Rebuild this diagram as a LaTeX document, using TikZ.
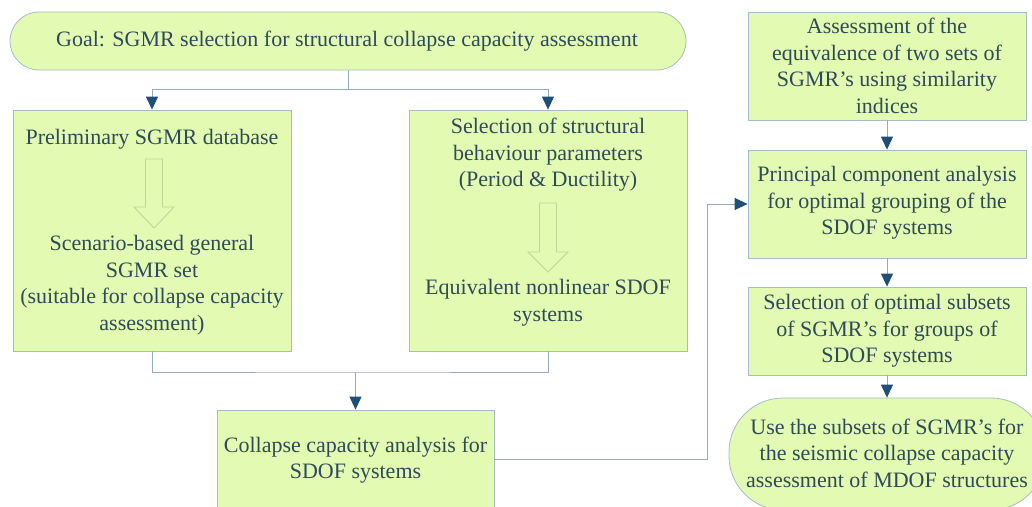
\documentclass[tikz,border=0pt]{standalone}
\usepackage{fontspec}
\setmainfont{Liberation Serif}
\usetikzlibrary{arrows.meta,positioning}
\definecolor{boxfill}{HTML}{E2FAB2}
\definecolor{boxdraw}{HTML}{A3BEC4}
\definecolor{linecol}{HTML}{94ACC0}
\definecolor{tipcol}{HTML}{1F4E79}
\definecolor{txtcol}{HTML}{2F4B5A}
\definecolor{hollowdraw}{HTML}{C2D49C}
\tikzset{
  box/.style={draw=boxdraw, fill=boxfill, line width=0.8pt, rectangle, inner sep=0pt},
  txt/.style={text=txtcol, align=center, font=\fontsize{22}{26.5}\selectfont, inner sep=0pt},
  conn/.style={draw=linecol, line width=1pt},
  arr/.style={conn, -{Triangle[width=12pt,length=13pt,color=tipcol]}},
  hollow/.style={draw=hollowdraw, fill=boxfill, line width=0.9pt},
}
\begin{document}
\begin{tikzpicture}[x=1pt,y=-1pt]
\useasboundingbox (0,0) rectangle (1032,506);
\begin{scope}
\clip (0,0) rectangle (1032,506);
% goal
\node[box, rounded corners=29pt, minimum width=676pt, minimum height=58pt] (goal) at (348,41) {};
\node[txt] (goalt) at (347,41) {Goal: SGMR selection for structural collapse capacity assessment};
% box1
\node[box, minimum width=278pt, minimum height=241pt] (box1) at (152,230.5) {};
\node[txt] (b1a) at (152,139) {Preliminary SGMR database};
\node[txt] (b1b) at (152,285) {Scenario-based general\\SGMR set\\(suitable for collapse capacity\\assessment)};
\draw[hollow] (145.5,159) -- (162.5,159) -- (162.5,207) -- (174,207) -- (154,228) -- (134,207) -- (145.5,207) -- cycle;
% box2
\node[box, minimum width=278pt, minimum height=241pt] (box2) at (548,230.5) {};
\node[txt] (b2a) at (548,155) {Selection of structural\\behaviour parameters\\(Period \& Ductility)};
\node[txt] (b2b) at (548,302.5) {Equivalent nonlinear SDOF\\systems};
\draw[hollow] (539.5,203) -- (556.5,203) -- (556.5,252) -- (568,252) -- (548,272) -- (528,252) -- (539.5,252) -- cycle;
% box3
\node[box, minimum width=277pt, minimum height=98pt] (box3) at (355.5,459) {};
\node[txt] (b3t) at (355.5,460) {Collapse capacity analysis for\\SDOF systems};
% right column
\node[box, minimum width=278pt, minimum height=108pt] (ba) at (887,66) {};
\node[txt] (bat) at (887,66) {Assessment of the\\equivalence of two sets of\\SGMR’s using similarity\\indices};
\node[box, minimum width=278pt, minimum height=108pt] (pca) at (887,204) {};
\node[txt] (pcat) at (887,203) {Principal component analysis\\for optimal grouping of the\\SDOF systems};
\node[box, minimum width=278pt, minimum height=88pt] (sel) at (887,331) {};
\node[txt] (selt) at (887,331) {Selection of optimal subsets\\of SGMR’s for groups of\\SDOF systems};
\node[box, rounded corners=54pt, minimum width=316pt, minimum height=112pt] (use) at (887,454) {};
\node[txt] (uset) at (887,453) {Use the subsets of SGMR’s for\\the seismic collapse capacity\\assessment of MDOF structures};
% connectors
\coordinate (j1) at (348,89);
\draw[conn] (goal.south) -- (j1);
\draw[arr] (j1) -| (box1.north);
\draw[arr] (j1) -| (box2.north);
\coordinate (j2) at (355.5,372);
\draw[conn] (box1.south) |- (j2) -| (box2.south);
\draw[arr] (j2) -- (box3.north);
\coordinate (j3) at (707,459);
\draw[arr] (box3.east) -- (j3) |- (pca.west);
\draw[arr] (ba.south) -- (pca.north);
\draw[arr] (pca.south) -- (sel.north);
\draw[arr] (sel.south) -- (use.north);
\end{scope}
\end{tikzpicture}
\end{document}
